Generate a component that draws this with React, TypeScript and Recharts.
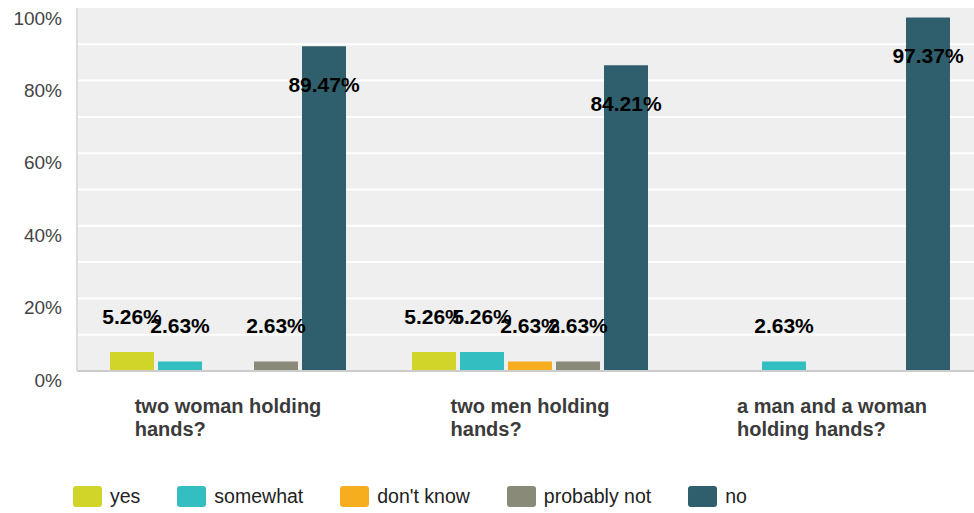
import { BarChart, Bar, XAxis, YAxis, CartesianGrid, LabelList } from "recharts";

const categories = ["two woman holding hands?", "two men holding hands?", "a man and a woman holding hands?"];
const yes = [5.26, 5.26, 0];
const somewhat = [2.63, 5.26, 2.63];
const dontKnow = [0, 2.63, 0];
const probablyNot = [2.63, 2.63, 0];
const no = [89.47, 84.21, 97.37];
const yTicks = [0, 20, 40, 60, 80, 100];
const gridValues = [10, 20, 30, 40, 50, 60, 70, 80, 90];

const series = [
  { key: "yes", name: "yes", color: "#d1d52a", values: yes },
  { key: "somewhat", name: "somewhat", color: "#33bec1", values: somewhat },
  { key: "dontKnow", name: "don't know", color: "#f6ae1f", values: dontKnow },
  { key: "probablyNot", name: "probably not", color: "#8a8a79", values: probablyNot },
  { key: "no", name: "no", color: "#2f5f6c", values: no },
];

const data = categories.map((c, i) => {
  const row: Record<string, string | number> = { category: c };
  series.forEach((s) => (row[s.key] = s.values[i]));
  return row;
});

const FONT = '"Liberation Sans", Arial, Helvetica, sans-serif';

let ctx: CanvasRenderingContext2D | null = null;
function measure(text: string, font: string) {
  if (!ctx) ctx = document.createElement("canvas").getContext("2d");
  if (!ctx) return text.length * 10;
  ctx.font = font;
  return ctx.measureText(text).width;
}

function wrap(text: string, font: string, maxWidth: number) {
  const words = text.split(" ");
  const lines: string[] = [];
  let cur = "";
  for (const w of words) {
    const test = cur ? cur + " " + w : w;
    if (cur && measure(test, font) > maxWidth) {
      lines.push(cur);
      cur = w;
    } else cur = test;
  }
  if (cur) lines.push(cur);
  return lines;
}

function CategoryTick({ x, y, payload }: any) {
  const font = `bold 20px ${FONT}`;
  const lines = wrap(payload.value, font, 205);
  const widest = Math.max(...lines.map((l) => measure(l, font)));
  return (
    <text x={x - widest / 2} y={y + 27} fill="#3b3b3b" fontSize={20} fontWeight="bold" fontFamily={FONT} textAnchor="start">
      {lines.map((l, i) => (
        <tspan key={i} x={x - widest / 2} dy={i === 0 ? 0 : 23} dominantBaseline="central">
          {l}
        </tspan>
      ))}
    </text>
  );
}

function PercentTick({ y, payload }: any) {
  return (
    <text x={62} y={y + 9.5} fill="#444" fontSize={19} fontFamily={FONT} textAnchor="end" dominantBaseline="central">
      {payload.value}%
    </text>
  );
}

function ValueLabel({ x, y, width, value }: any) {
  if (!value) return null;
  const cy = value > 50 ? y + 38 : y - 35.5;
  return (
    <text x={x + width / 2} y={cy} fill="#000" fontSize={21} fontWeight="bold" fontFamily={FONT} textAnchor="middle" dominantBaseline="central">
      {Number(value).toFixed(2)}%
    </text>
  );
}

export default function App() {
  return (
    <div style={{ position: "absolute", left: 0, top: 0, width: 974, height: 513, overflow: "hidden", background: "#fff" }}>
      <BarChart width={990} height={513} data={data} margin={{ top: 8, right: 7, bottom: 0, left: 0 }} barSize={44} barGap={4}>
        <CartesianGrid fill="#efefef" stroke="#ffffff" strokeWidth={2} vertical={false} horizontalValues={gridValues} />
        <XAxis dataKey="category" height={142} tick={<CategoryTick />} tickLine={false} axisLine={{ stroke: "#cccccc", strokeWidth: 2 }} interval={0} />
        <YAxis domain={[0, 100]} ticks={yTicks} width={77} tick={<PercentTick />} tickLine={false} axisLine={{ stroke: "#dcdcdc", strokeWidth: 2 }} />
        {series.map((s) => (
          <Bar key={s.key} dataKey={s.key} name={s.name} fill={s.color} isAnimationActive={false}>
            <LabelList dataKey={s.key} content={<ValueLabel />} />
          </Bar>
        ))}
      </BarChart>
      <div style={{ position: "absolute", left: 73, top: 486, display: "flex", alignItems: "center", fontFamily: FONT, fontSize: 19.5, color: "#222" }}>
        {series.map((s) => (
          <div key={s.key} style={{ display: "flex", alignItems: "center", marginRight: 37 }}>
            <span style={{ display: "inline-block", width: 29, height: 21, borderRadius: 3, background: s.color, marginRight: 8 }} />
            <span style={{ lineHeight: "21px" }}>{s.name}</span>
          </div>
        ))}
      </div>
    </div>
  );
}
